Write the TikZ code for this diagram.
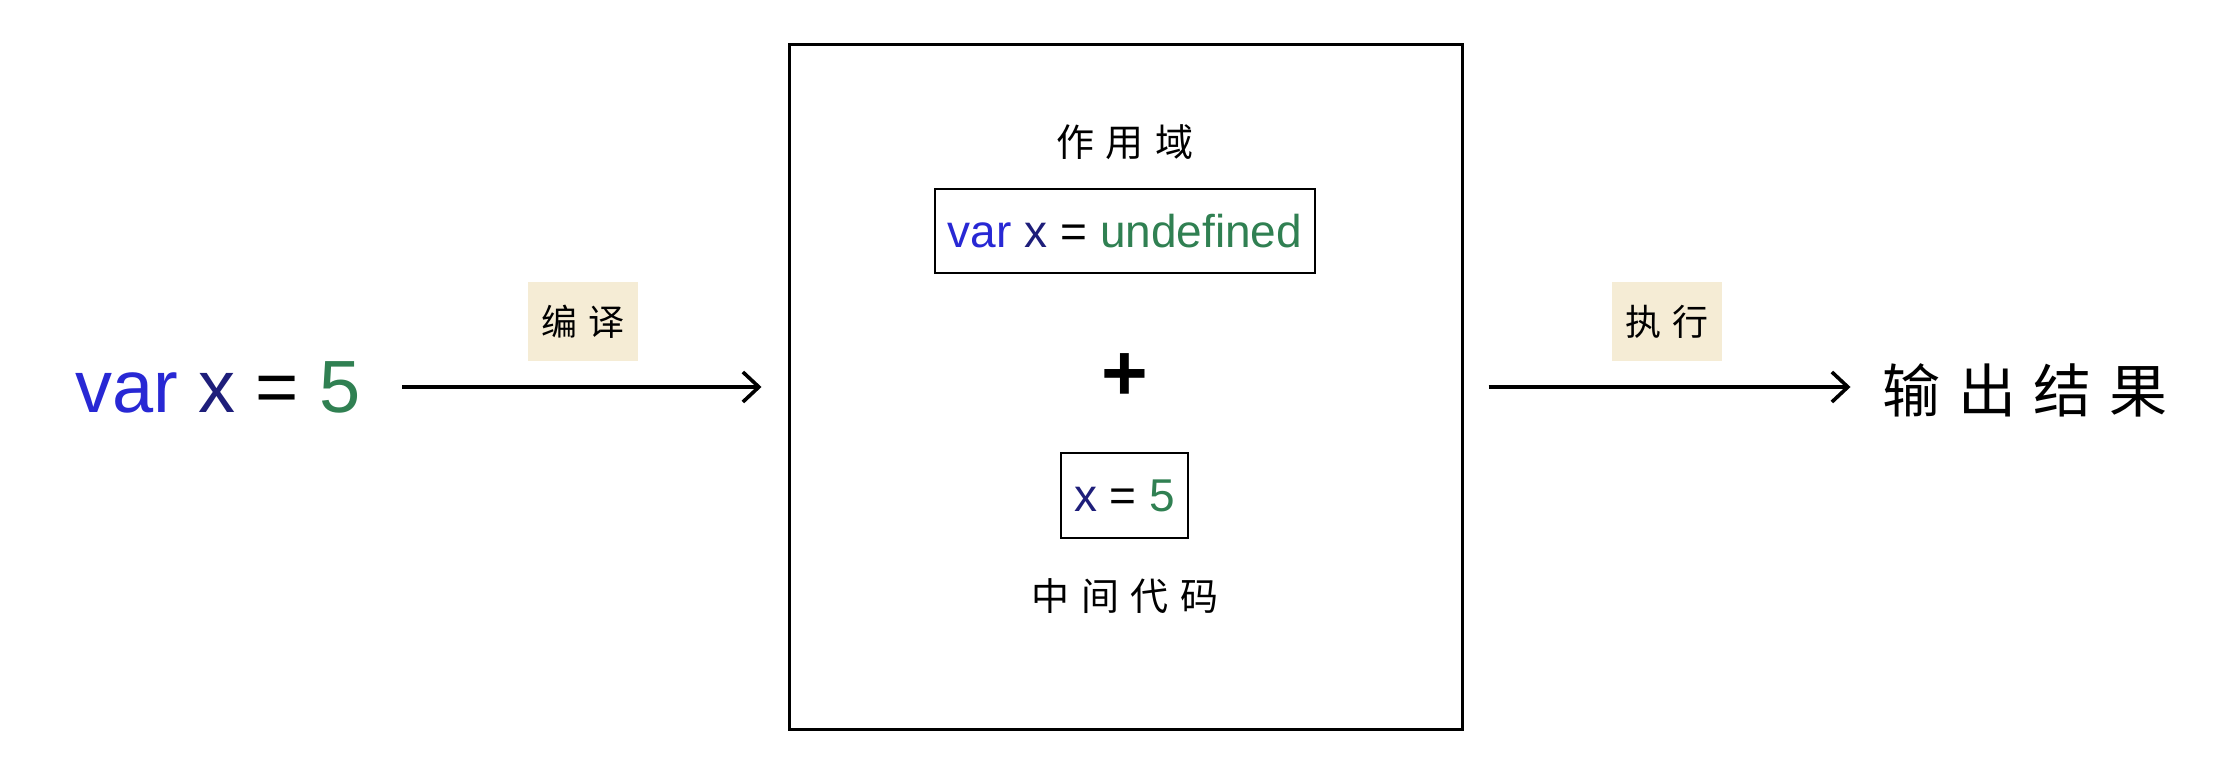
\documentclass[tikz,border=0pt]{standalone}
\usepackage{fontspec}
\setmainfont{Liberation Sans}
\newfontfamily\cjk[LetterSpace=30]{Noto Sans CJK SC}
\usetikzlibrary{arrows.meta}

\definecolor{kwblue}{RGB}{40,40,212}
\definecolor{idnavy}{RGB}{30,30,122}
\definecolor{valgreen}{RGB}{48,128,82}
\definecolor{tagbeige}{RGB}{245,236,213}

\tikzset{
  flow/.style={line width=1.8pt,-{Straight Barb[length=8pt,width=15pt,line width=1.8pt]}},
  tag/.style={fill=tagbeige,inner sep=0pt,minimum width=55pt,minimum height=39.5pt,font=\cjk\fontsize{18}{18}\selectfont},
  codebox/.style={draw,line width=1.4pt,inner sep=0pt,font=\fontsize{23}{23}\selectfont},
  cjktext/.style={inner sep=0pt,font=\cjk\fontsize{19}{19}\selectfont}
}

\begin{document}
\begin{tikzpicture}[x=0.5pt,y=0.5pt,yscale=-1,xscale=1]
\useasboundingbox (0,0) rectangle (2238,764);

% Text Node
\node (src) [inner sep=0pt,font=\fontsize{37}{37}\selectfont] at (218,387) {{\color{kwblue}var} {\color{idnavy}x} = {\color{valgreen}5}};
% Text Node
\node (compile) [tag] at (583,322) {编译};

%Shape: Rectangle
\node (stage) [draw,line width=1.5pt,minimum width=336.5pt,minimum height=342pt] at (1125.5,387) {};
% Text Node
\node (scope) [cjktext] at (1125,142) {作用域};
%Shape: Rectangle
\node (decl) [codebox,minimum width=190pt,minimum height=42pt] at (1125,231) {{\color{kwblue}var} {\color{idnavy}x} = {\color{valgreen}undefined}};
% Text Node
\node (plus) [inner sep=0pt,font=\bfseries\fontsize{40}{40}\selectfont] at (1125,377) {+};
%Shape: Rectangle
\node (assign) [codebox,minimum width=63.5pt,minimum height=42.5pt] at (1124.5,495.5) {{\color{idnavy}x} = {\color{valgreen}5}};
% Text Node
\node (midcode) [cjktext] at (1125,596) {中间代码};

% Text Node
\node (run) [tag] at (1667,322) {执行};
% Text Node
\node (out) [inner sep=0pt,font=\cjk\fontsize{29}{29}\selectfont] at (2025,390) {输出结果};

%Straight Lines
\draw [flow,shorten <=20.5pt,shorten >=13pt] (src) -- (stage);
%Straight Lines
\draw [flow,shorten <=12.5pt,shorten >=16pt] (stage.east) -- (stage.east -| out.west);

\end{tikzpicture}
\end{document}
